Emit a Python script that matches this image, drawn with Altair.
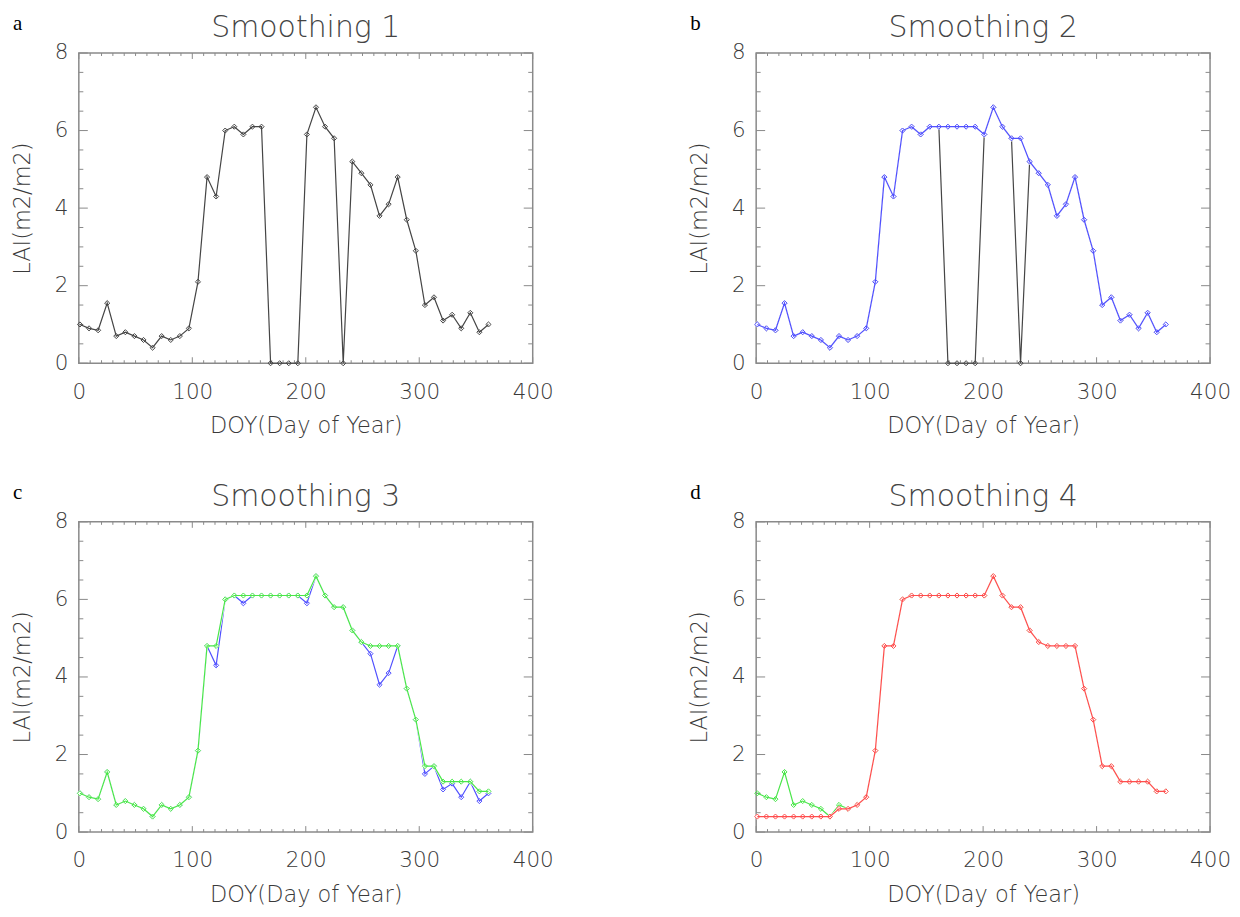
import altair as alt
import pandas as pd

# ---------------- data ----------------
DOY = [1, 9, 17, 25, 33, 41, 49, 57, 65, 73, 81, 89, 97, 105, 113, 121, 129, 137, 145, 153,
       161, 169, 177, 185, 193, 201, 209, 217, 225, 233, 241, 249, 257, 265, 273, 281, 289,
       297, 305, 313, 321, 329, 337, 345, 353, 361]

LAI_RAW = [1.0, 0.9, 0.85, 1.55, 0.7, 0.8, 0.7, 0.6, 0.4, 0.7, 0.6, 0.7, 0.9, 2.1, 4.8, 4.3,
           6.0, 6.1, 5.9, 6.1, 6.1, 0.0, 0.0, 0.0, 0.0, 5.9, 6.6, 6.1, 5.8, 0.0, 5.2, 4.9,
           4.6, 3.8, 4.1, 4.8, 3.7, 2.9, 1.5, 1.7, 1.1, 1.25, 0.9, 1.3, 0.8, 1.0]

LAI_S2 = [1.0, 0.9, 0.85, 1.55, 0.7, 0.8, 0.7, 0.6, 0.4, 0.7, 0.6, 0.7, 0.9, 2.1, 4.8, 4.3,
          6.0, 6.1, 5.9, 6.1, 6.1, 6.1, 6.1, 6.1, 6.1, 5.9, 6.6, 6.1, 5.8, 5.8, 5.2, 4.9,
          4.6, 3.8, 4.1, 4.8, 3.7, 2.9, 1.5, 1.7, 1.1, 1.25, 0.9, 1.3, 0.8, 1.0]

LAI_S3 = [1.0, 0.9, 0.85, 1.55, 0.7, 0.8, 0.7, 0.6, 0.4, 0.7, 0.6, 0.7, 0.9, 2.1, 4.8, 4.8,
          6.0, 6.1, 6.1, 6.1, 6.1, 6.1, 6.1, 6.1, 6.1, 6.1, 6.6, 6.1, 5.8, 5.8, 5.2, 4.9,
          4.8, 4.8, 4.8, 4.8, 3.7, 2.9, 1.7, 1.7, 1.3, 1.3, 1.3, 1.3, 1.05, 1.05]

LAI_S4 = [0.4, 0.4, 0.4, 0.4, 0.4, 0.4, 0.4, 0.4, 0.4, 0.6, 0.6, 0.7, 0.9, 2.1, 4.8, 4.8,
          6.0, 6.1, 6.1, 6.1, 6.1, 6.1, 6.1, 6.1, 6.1, 6.1, 6.6, 6.1, 5.8, 5.8, 5.2, 4.9,
          4.8, 4.8, 4.8, 4.8, 3.7, 2.9, 1.7, 1.7, 1.3, 1.3, 1.3, 1.3, 1.05, 1.05]

X_LABELS = [0, 100, 200, 300, 400]
Y_LABELS = [0, 2, 4, 6, 8]
X_MINOR = [v for v in range(0, 401, 10) if v % 100]
Y_MINOR = [v / 2 for v in range(0, 17) if v % 4]

TITLES = ["Smoothing 1", "Smoothing 2", "Smoothing 3", "Smoothing 4"]
LETTERS = ["a", "b", "c", "d"]

# ---------------- style ----------------
W, H = 455, 311
FONT = "DejaVu Sans"
WEIGHT = 200
TXT = "#3a3a3a"
GRAY = "#8a8a8a"
BLACK = "#454545"
BLUE = "#5050ff"
GREEN = "#4ae64a"
RED = "#ff4d4d"

x_enc = alt.X(
    "doy:Q",
    scale=alt.Scale(domain=[0, 400], nice=False, zero=False),
    axis=alt.Axis(values=X_LABELS, title="DOY(Day of Year)", grid=False, ticks=False,
                  domain=False, labelFont=FONT, labelFontSize=21.5, labelFontWeight=WEIGHT,
                  labelColor=TXT, labelPadding=18, labelFlush=False, titleFont=FONT,
                  titleFontSize=22.5, titleFontWeight=WEIGHT, titleColor=TXT,
                  titlePadding=12),
)
y_enc = alt.Y(
    "lai:Q",
    scale=alt.Scale(domain=[0, 8], nice=False),
    axis=alt.Axis(values=Y_LABELS, title="LAI(m2/m2)", grid=False, ticks=False,
                  domain=False, labelFont=FONT, labelFontSize=21.5, labelFontWeight=WEIGHT,
                  labelColor=TXT, labelPadding=11, labelFlush=False, titleFont=FONT,
                  titleFontSize=22.5, titleFontWeight=WEIGHT, titleColor=TXT,
                  titlePadding=20),
)


def tick_layers():
    layers = []
    for vals, L in ((X_MINOR, 3), (X_LABELS, 6)):
        df = pd.DataFrame({"doy": vals})
        base = alt.Chart(df).mark_rule(color=GRAY, strokeWidth=1)
        layers.append(base.encode(x=x_enc, y=alt.value(H), y2=alt.value(H - L)))
        layers.append(base.encode(x=x_enc, y=alt.value(0), y2=alt.value(L)))
    for vals, L in ((Y_MINOR, 4.5), (Y_LABELS, 9)):
        df = pd.DataFrame({"lai": vals})
        base = alt.Chart(df).mark_rule(color=GRAY, strokeWidth=1)
        layers.append(base.encode(y=y_enc, x=alt.value(0), x2=alt.value(L)))
        layers.append(base.encode(y=y_enc, x=alt.value(W), x2=alt.value(W - L)))
    return layers


def series_layers(values, color, erase=False):
    df = pd.DataFrame({"doy": DOY, "lai": values})
    out = []
    if erase:
        # white backing so the series below does not tint this one
        out.append(alt.Chart(df).mark_line(color="white", strokeWidth=2.2).encode(x=x_enc, y=y_enc))
        out.append(alt.Chart(df).mark_point(shape="diamond", size=45, filled=True, color="white",
                                            opacity=1).encode(x=x_enc, y=y_enc))
    out.append(alt.Chart(df).mark_line(color=color, strokeWidth=1.2).encode(x=x_enc, y=y_enc))
    out.append(alt.Chart(df).mark_point(shape="diamond", size=26, filled=False, color=color,
                                        strokeWidth=1, opacity=1).encode(x=x_enc, y=y_enc))
    return out


def panel(idx, series):
    layers = tick_layers()
    for k, (vals, col) in enumerate(series):
        layers += series_layers(vals, col, erase=k > 0)
    lab = pd.DataFrame({"letter": [LETTERS[idx]], "title": [TITLES[idx]]})
    letter = alt.Chart(lab).mark_text(font="Liberation Serif", fontSize=21, align="left",
                                      baseline="alphabetic", color="black").encode(
        x=alt.value(-66), y=alt.value(-23), text="letter:N")
    title = alt.Chart(lab).mark_text(font=FONT, fontSize=30, fontWeight=WEIGHT, align="center",
                                     baseline="alphabetic", color="#444444").encode(
        x=alt.value(W / 2), y=alt.value(-16), text="title:N")
    layers += [letter, title]
    return alt.layer(*layers).properties(width=W, height=H)


pa = panel(0, [(LAI_RAW, BLACK)])
pb = panel(1, [(LAI_RAW, BLACK), (LAI_S2, BLUE)])
pc = panel(2, [(LAI_S2, BLUE), (LAI_S3, GREEN)])
pd_ = panel(3, [(LAI_S3, GREEN), (LAI_S4, RED)])

chart = alt.concat(
    pa, pb, pc, pd_, columns=2,
    spacing=alt.RowColnumber(row=159, column=224), bounds="flush",
).properties(
    padding={"left": 2, "top": 3, "right": 0, "bottom": 0},
    background="white",
).configure_view(stroke=GRAY, strokeWidth=1.5)

chart.save("out.html", embed_options={"renderer": "svg", "actions": False})
